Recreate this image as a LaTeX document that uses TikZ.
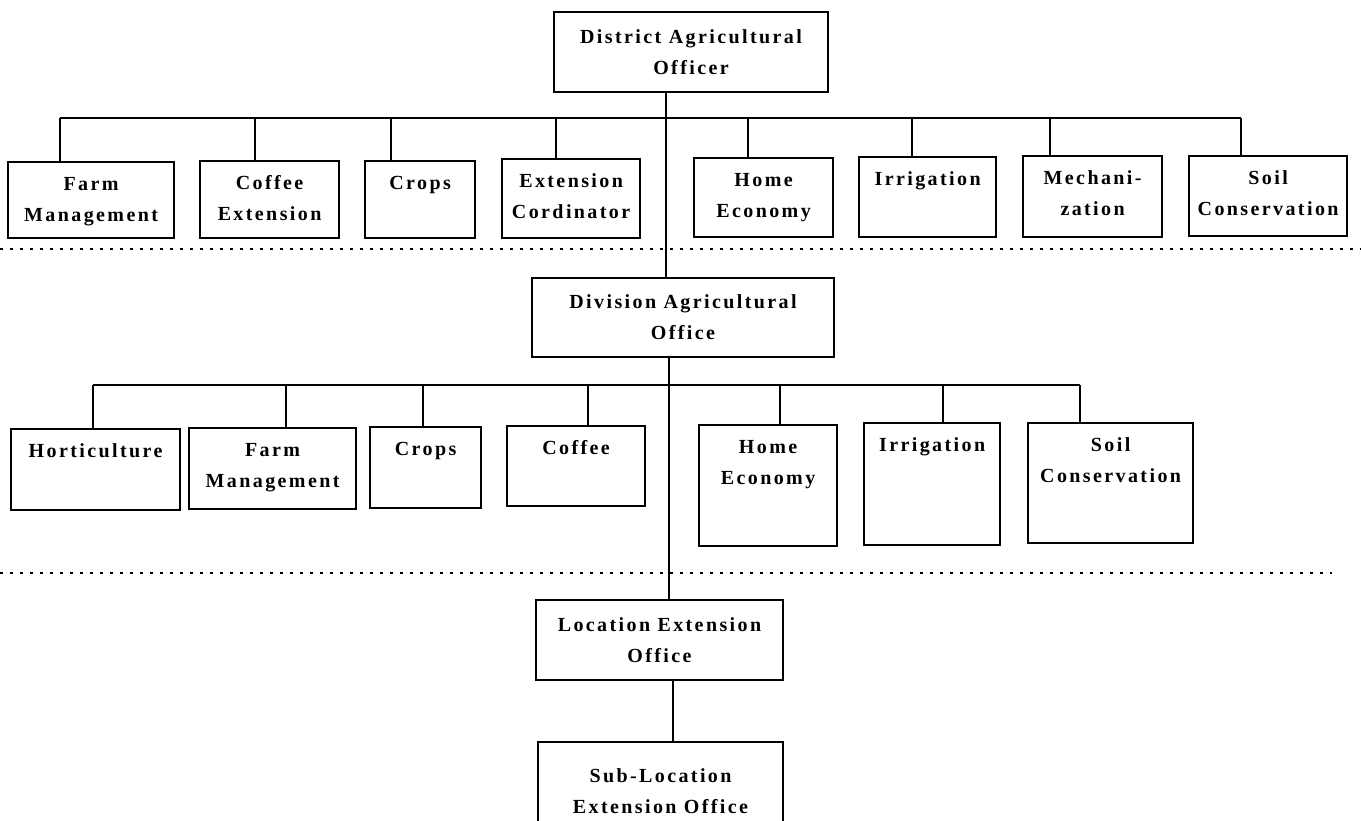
\documentclass[tikz,border=0pt]{standalone}
\usepackage{fontspec}
\setmainfont{Liberation Serif}[LetterSpace=12]
\tikzset{
  box/.style={draw=black, line width=2.2pt, inner sep=0pt, fill=white},
  wire/.style={draw=black, line width=2.6pt},
  sep/.style={draw=black, line width=2.4pt, dash pattern=on 2.5pt off 7.5pt},
}
\newcommand\boxfont{\fontsize{20}{31}\selectfont\bfseries}
% top-aligned box: name, left, top, right, bottom, text
\newcommand\tbox[6]{%
  \node[box, anchor=north west] (#1) at (#2,#3)
    {\parbox[t][\dimexpr #5pt-#3pt\relax][t]{\dimexpr #4pt-#2pt\relax}{\boxfont\centering\rule{0pt}{28pt}#6\par}};}
% centred box: name, left, top, right, bottom, text
\newcommand\cbox[6]{%
  \node[box, align=center, font=\boxfont, minimum width={(#4-#2)*1pt}, minimum height={(#5-#3)*1pt}]
    (#1) at ({(#2+#4)/2},{(#3+#5)/2}) {#6};}
\begin{document}
\begin{tikzpicture}[x=1pt, y=-1pt]
\useasboundingbox (0,0) rectangle (1361,820);
\clip (0,0) rectangle (1361,820);

% separators
\coordinate (s1a) at (0,249);
\coordinate (s1b) at (1361,249);
\coordinate (s2a) at (0,573);
\coordinate (s2b) at (1332,573);
\draw[sep] (s1a) -- (s1b);
\draw[sep] (s2a) -- (s2b);

% level 1
\cbox{dao}{554}{12}{828}{92}{District Agricultural\\Officer}
\tbox{r1a}{7}{161}{173}{237}{Farm\\Management}
\tbox{r1b}{199}{160}{338}{237}{Coffee\\Extension}
\tbox{r1c}{364}{160}{474}{237}{Crops}
\tbox{r1d}{501}{158}{639}{237}{Extension\\Cordinator}
\tbox{r1e}{693}{157}{832}{236}{Home\\Economy}
\tbox{r1f}{858}{156}{995}{236}{Irrigation}
\tbox{r1g}{1022}{155}{1161}{236}{Mechani-\\zation}
\tbox{r1h}{1188}{155}{1346}{235}{Soil\\Conservation}

% level 2
\cbox{div}{532}{278}{834}{357}{Division Agricultural\\Office}
\tbox{r2a}{10}{428}{179}{509}{Horticulture}
\tbox{r2b}{188}{427}{355}{508}{Farm\\Management}
\tbox{r2c}{369}{426}{480}{507}{Crops}
\tbox{r2d}{506}{425}{644}{505}{Coffee}
\tbox{r2e}{698}{424}{836}{545}{Home\\Economy}
\tbox{r2f}{863}{422}{999}{544}{Irrigation}
\tbox{r2g}{1027}{422}{1192}{542}{Soil\\Conservation}

% level 3
\cbox{loc}{536}{600}{783}{680}{Location Extension\\Office}
\cbox{sub}{538}{742}{783}{840}{Sub-Location\\Extension Office}

% trunk
\coordinate (t1) at (666,0);
\coordinate (t2) at (669,0);
\coordinate (t3) at (673,0);
\draw[wire] (dao.south -| t1) -- (div.north -| t1);
\draw[wire] (div.south -| t2) -- (loc.north -| t2);
\draw[wire] (loc.south -| t3) -- (sub.north -| t3);

% bus 1
\coordinate (b1a) at (60,118);
\coordinate (b1b) at (255,118);
\coordinate (b1c) at (391,118);
\coordinate (b1d) at (556,118);
\coordinate (b1e) at (748,118);
\coordinate (b1f) at (912,118);
\coordinate (b1g) at (1050,118);
\coordinate (b1h) at (1241,118);
\draw[wire] (b1a) -- (b1h);
\foreach \k in {a,b,c,d,e,f,g,h}{\draw[wire] (b1\k) -- (b1\k |- r1\k.north);}

% bus 2
\coordinate (b2a) at (93,385);
\coordinate (b2b) at (286,385);
\coordinate (b2c) at (423,385);
\coordinate (b2d) at (588,385);
\coordinate (b2e) at (780,385);
\coordinate (b2f) at (943,385);
\coordinate (b2g) at (1080,385);
\draw[wire] (b2a) -- (b2g);
\foreach \k in {a,b,c,d,e,f,g}{\draw[wire] (b2\k) -- (b2\k |- r2\k.north);}
\end{tikzpicture}
\end{document}
